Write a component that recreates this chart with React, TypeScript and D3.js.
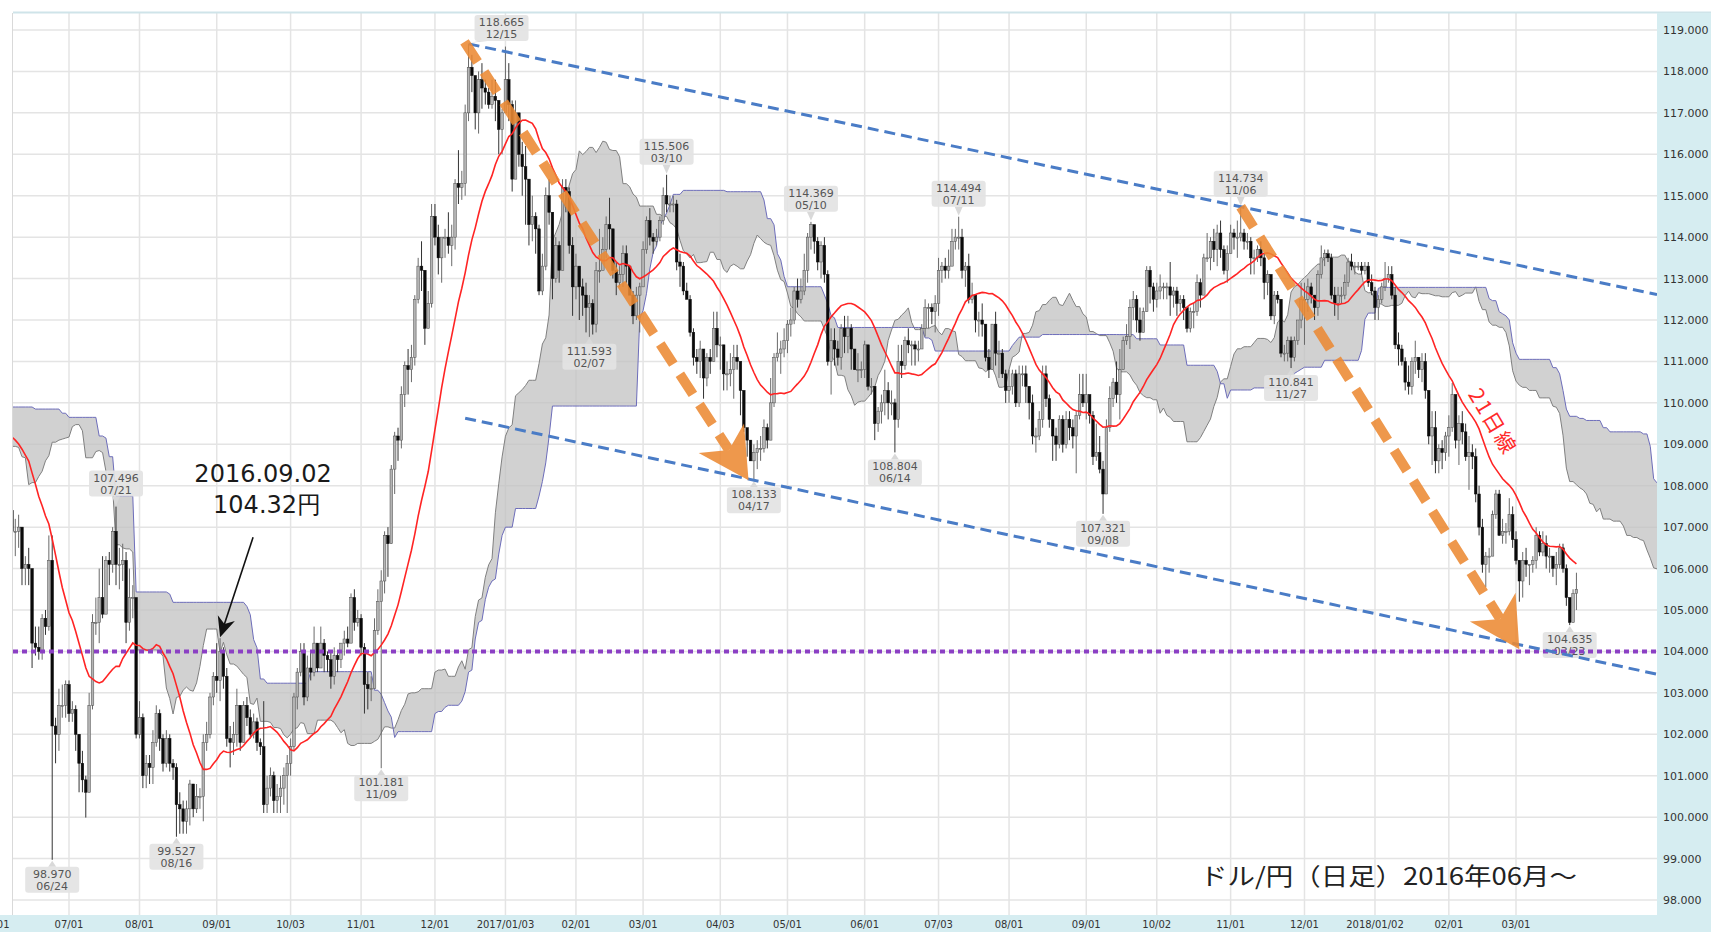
import React from "react";
import * as d3 from "d3";

const W = 1711;
const H = 932;

// ---------- axis ticks ----------
const priceTicks = [98, 99, 100, 101, 102, 103, 104, 105, 106, 107, 108, 109, 110, 111, 112, 113, 114, 115, 116, 117, 118, 119];
const dateTicks = ["2016-06-01", "2016-07-01", "2016-08-01", "2016-09-01", "2016-10-03", "2016-11-01", "2016-12-01", "2017-01-03", "2017-02-01", "2017-03-01", "2017-04-03", "2017-05-01", "2017-06-01", "2017-07-03", "2017-08-01", "2017-09-01", "2017-10-02", "2017-11-01", "2017-12-01", "2018-01-02", "2018-02-01", "2018-03-01"];
const dateTickLabels = ["06/01", "07/01", "08/01", "09/01", "10/03", "11/01", "12/01", "2017/01/03", "02/01", "03/01", "04/03", "05/01", "06/01", "07/03", "08/01", "09/01", "10/02", "11/01", "12/01", "2018/01/02", "02/01", "03/01"];

// trading calendar (weekdays, market-closed days removed)
const firstDay = "2016-02-22";
const lastDay = "2018-03-27";
const firstVisibleDay = "2016-06-08";
const closedDays = ["2016-12-26", "2017-01-02", "2018-01-01"];

// ---------- daily USD/JPY  [close, high, low] ----------
// history before the visible window (used only by the 21-day line and the cloud)
const feb16 = [[112.8,113.4,112.4],[112.1,113.0,111.8],[112.1,112.6,110.9],[112.9,113.2,111.8],[113.9,114.0,112.6],[112.7,114.0,112.3]];
const mar16 = [[113.5,113.8,112.4],[114.0,114.3,113.2],[113.7,114.2,113.3],[113.8,114.2,113.0],
  [113.3,114.0,113.0],[112.7,113.5,112.2],[113.3,113.5,112.3],[113.2,114.1,112.6],[113.8,114.0,112.9],
  [113.8,114.2,113.4],[113.2,113.9,113.0],[112.4,114.0,112.2],[111.5,112.5,110.7],[111.6,111.9,110.9],
  [111.9,112.1,111.3],[112.3,112.5,111.5],[112.4,112.6,112.0],[113.0,113.2,112.3],[113.0,113.2,112.8],
  [113.4,113.6,113.0],[112.6,113.8,112.4],[112.4,112.9,112.0],[112.6,112.9,112.0]];
const apr16 = [[111.6,112.8,111.4],
  [111.3,111.9,111.1],[110.3,111.3,110.0],[109.8,110.6,109.6],[108.1,109.8,107.7],[108.0,108.7,107.6],
  [108.0,108.5,107.6],[108.6,108.8,107.8],[109.4,109.6,108.5],[109.3,109.8,109.0],[108.8,109.5,108.6],
  [108.8,109.0,107.9],[109.2,109.4,108.6],[109.8,109.9,109.1],[109.5,109.9,109.3],[111.8,111.9,109.6],
  [111.2,111.9,110.9],[111.1,111.5,110.6],[111.4,111.9,110.7],[108.1,111.8,107.8],[106.5,108.5,106.2]];
const may16 = [[106.4,107.1,106.1],[106.1,106.8,105.5],[107.0,107.5,106.3],[107.3,107.5,106.6],[107.1,107.6,106.6],
  [108.4,108.6,107.2],[109.0,109.2,108.3],[108.5,109.1,108.2],[109.0,109.4,108.4],[108.6,109.2,108.5],
  [109.1,109.2,108.6],[109.0,109.4,108.7],[110.2,110.4,108.9],[109.9,110.3,109.6],[110.2,110.6,109.8],
  [109.4,110.3,109.1],[109.9,110.0,109.2],[110.2,110.3,109.6],[109.8,110.2,109.3],[110.2,110.5,109.4],
  [111.1,111.4,110.2],[110.7,111.2,110.6]];
const junEarly16 = [[109.5,110.8,109.3],[109.0,109.6,108.6],[106.5,109.2,106.4],[107.6,107.7,106.4],[107.4,107.7,107.0]];

// visible window
const jun16 = [[106.9,107.4,106.6],[106.9,107.2,106.3],[107.0,107.3,106.5],
  [106.0,107.0,105.6],[106.1,106.3,105.6],[106.0,106.5,105.6],[104.2,106.0,103.6],[104.1,104.6,103.9],
  [104.0,104.6,103.8],[104.8,104.9,103.8],[104.6,105.0,104.4],[106.2,106.8,104.5],[102.2,106.8,98.97],
  [102.0,102.4,101.3],[102.7,103.1,101.6],[102.7,103.2,102.4],[103.2,103.3,102.4]];
const jul16 = [[102.5,103.3,102.3],
  [102.6,102.8,102.3],[102.0,102.7,101.6],[101.3,102.0,100.6],[100.9,101.6,100.6],[100.6,101.0,99.99],
  [102.7,103.0,100.6],[104.7,104.9,102.6],[104.7,105.3,104.4],[105.3,106.0,104.2],[104.9,106.3,104.8],
  [106.2,106.3,104.9],[106.1,106.4,105.6],[106.9,107.0,105.9],[106.1,107.496,105.6],[106.1,106.5,105.5],
  [106.2,106.6,105.7],[104.7,106.4,104.2],[105.3,106.0,104.5],[105.3,105.6,104.8],[102.0,105.3,101.9]];
const aug16 = [[102.4,102.8,101.9],[101.0,102.5,100.7],[101.3,101.5,100.7],[101.2,101.5,100.8],[101.8,102.1,100.8],
  [102.5,102.7,101.7],[101.9,102.6,101.6],[101.3,102.0,101.1],[101.9,102.1,101.2],[101.3,102.0,101.1],
  [101.2,101.4,100.9],[100.3,101.3,99.527],[100.2,100.6,99.6],[99.9,100.4,99.6],[100.2,100.4,99.6],
  [100.8,100.9,99.8],[100.2,100.8,100.0],[100.5,100.8,100.1],[100.5,100.7,100.2],[101.8,102.0,99.9],
  [102.0,102.3,101.6],[102.9,103.0,101.9],[103.4,103.5,102.7]];
const sep16 = [[103.3,104.2,103.0],[104.0,104.32,102.8],
  [103.4,104.1,103.1],[101.9,103.6,101.7],[101.8,102.2,101.2],[102.0,102.3,101.5],[102.7,103.1,101.7],
  [101.8,102.7,101.6],[102.7,102.8,101.8],[102.4,102.9,102.2],[102.0,102.6,101.9],[102.3,102.5,101.9],
  [101.8,102.4,101.6],[101.7,101.9,101.5],[100.3,102.8,100.1],[100.7,101.0,100.1],[101.0,101.2,100.5],
  [100.4,101.1,100.1],[100.5,100.8,100.1],[100.7,101.0,100.1],[101.0,101.2,100.3],[101.3,101.5,100.1]];
const oct16 = [[101.7,101.9,101.0],[102.9,103.0,101.6],[103.5,103.6,102.6],[104.0,104.2,103.4],[102.9,104.2,102.7],
  [103.6,103.9,102.8],[103.5,104.0,103.3],[104.2,104.6,103.4],[103.6,104.2,103.5],[104.2,104.6,103.6],
  [103.9,104.3,103.5],[103.8,104.0,103.5],[103.4,104.0,103.1],[103.9,104.1,103.2],[103.8,104.0,103.5],
  [104.2,104.2,103.6],[104.3,104.5,103.9],[104.2,104.6,104.1],[105.3,105.4,104.3],[104.7,105.5,104.5],
  [104.8,105.0,104.6]];
const nov16 = [[104.1,104.9,103.9],[103.2,104.2,102.5],[103.1,103.5,102.6],[103.1,103.4,102.8],
  [104.5,104.8,103.6],[105.2,105.5,104.4],[105.7,105.96,101.181],[106.8,106.9,105.4],[106.6,107.0,105.8],
  [108.4,108.5,106.6],[109.2,109.3,107.8],[109.1,109.4,108.6],[110.2,110.4,108.9],[110.9,111.0,109.9],
  [110.8,111.3,110.2],[111.1,111.4,110.5],[112.5,112.6,110.9],[113.3,113.5,112.4],[113.2,113.9,112.7],
  [111.8,113.2,111.4],[112.4,112.7,111.8],[114.5,114.8,112.3]];
const dec16 = [[114.0,114.8,113.8],[113.5,114.3,113.1],
  [114.0,114.0,112.9],[114.0,114.2,113.5],[113.8,114.6,113.6],[114.0,114.3,113.3],[115.3,115.4,113.7],
  [115.2,116.1,114.8],[115.3,115.6,114.9],[117.0,117.2,115.0],[118.1,118.665,116.8],[117.9,118.4,117.5],
  [117.0,117.9,116.6],[117.8,118.0,116.5],[117.6,118.2,117.1],[117.5,117.8,117.2],[117.2,117.6,117.1],
  [117.4,117.8,117.1],[117.3,117.8,116.8],[116.6,117.2,116.0],[117.0,117.1,116.0]];
const jan17 = [[117.8,118.6,117.2],[117.2,118.2,116.8],[115.4,117.3,115.1],[117.0,117.3,115.4],
  [116.0,117.0,115.7],[115.7,116.3,115.0],[115.4,116.2,114.3],[114.3,115.2,113.8],[114.5,115.0,113.9],
  [114.2,114.6,113.6],[112.7,114.3,112.6],[113.3,113.6,112.6],[115.0,115.2,113.2],[114.6,115.4,114.3],
  [113.0,114.3,112.5],[113.8,114.0,112.9],[113.2,113.9,112.9],[115.2,115.4,113.2],[115.1,115.4,114.6],
  [113.8,115.2,113.6],[112.8,114.0,112.1]];
const feb17 = [[113.3,113.6,112.5],[112.8,113.3,112.0],[112.6,113.0,112.1],
  [112.3,112.9,111.7],[112.4,112.6,111.593],[111.9,112.5,111.65],[113.2,113.4,111.7],[113.2,114.2,112.9],
  [113.7,114.0,113.2],[114.3,114.5,113.5],[114.2,114.95,113.7],[113.2,114.1,113.0],[112.9,113.4,112.6],
  [113.1,113.3,112.8],[113.6,113.8,112.8],[113.3,113.8,112.9],[112.6,113.3,112.6],[112.1,112.7,111.9],
  [112.6,112.8,112.0],[112.8,112.9,111.7]];
const mar17 = [[113.7,113.9,112.8],[114.4,114.5,113.6],[114.0,114.7,113.8],
  [113.9,114.1,113.6],[114.0,114.2,113.8],[114.4,114.5,113.9],[115.0,115.2,114.3],[114.8,115.506,114.6],
  [114.8,115.0,114.6],[114.8,115.0,114.6],[113.4,114.9,113.2],[113.3,113.6,112.8],[112.7,113.4,112.6],
  [112.5,112.9,112.5],[111.7,112.6,111.6],[111.1,111.8,110.9],[111.0,111.3,110.7],[111.3,111.5,110.6],
  [110.6,111.0,110.1],[111.1,111.2,110.4],[111.0,111.3,110.7],[111.8,112.2,111.0],[111.4,112.2,111.1]];
const apr17 = [[111.4,111.6,110.8],[110.7,111.4,110.3],[110.7,111.0,110.3],[110.8,111.2,110.4],[111.1,111.4,110.1],
  [111.0,111.4,110.8],[110.3,111.0,109.7],[109.4,110.3,109.3],[109.1,109.4,108.7],[108.6,109.1,108.6],
  [108.8,109.0,108.133],[108.9,109.1,108.4],[108.9,109.2,108.6],[109.4,109.6,108.8],[109.1,109.5,108.9],
  [110.0,110.6,109.5],[111.1,111.2,109.9],[111.2,111.7,111.0],[111.3,111.5,110.7],[111.5,111.8,111.1]];
const may17 = [[111.9,112.0,111.2],[112.0,112.3,111.6],[112.7,112.8,111.9],[112.5,113.0,112.3],[112.7,113.0,112.4],
  [113.2,113.6,112.6],[114.0,114.1,112.9],[114.3,114.369,113.7],[113.9,114.3,113.6],[113.4,114.0,113.2],
  [113.8,113.9,113.0],[113.1,114.0,112.9],[111.0,113.2,110.9],[111.5,111.8,110.2],[111.3,111.8,110.9],
  [111.1,111.5,110.9],[111.8,111.9,110.8],[111.6,112.1,111.2],[111.8,112.1,111.2],[111.3,111.9,110.8],
  [110.8,111.3,110.8],[110.8,111.2,110.5],[110.8,111.0,110.6]];
const jun17 = [[111.4,111.5,110.6],[110.4,111.4,110.3],
  [110.4,110.6,110.2],[109.5,110.4,109.1],[109.8,109.9,109.3],[110.0,110.2,109.5],[110.3,110.8,109.7],
  [110.0,110.5,109.6],[110.0,110.3,109.7],[109.6,110.1,108.804],[111.0,111.4,109.4],[110.9,111.4,110.6],
  [111.5,111.6,110.8],[111.4,111.8,111.2],[111.4,111.5,110.9],[111.3,111.5,110.9],[111.3,111.5,111.0],
  [111.8,111.9,111.3],[112.3,112.5,111.6],[112.3,112.4,111.8],[112.2,112.4,111.9],[112.4,112.6,111.7]];
const jul17 = [[113.2,113.5,112.1],[113.3,113.4,112.9],[113.2,113.5,113.0],[113.3,113.7,113.0],[113.9,114.2,113.3],
  [114.0,114.2,113.7],[114.0,114.494,113.7],[113.2,114.2,113.0],[113.3,113.4,112.8],[112.5,113.6,112.4],
  [112.6,112.9,112.4],[112.0,112.6,111.7],[112.0,112.2,111.6],[111.9,112.4,111.6],[111.1,111.9,111.0],
  [110.8,111.3,110.6],[111.9,111.9,110.8],[111.2,112.2,110.9],[111.2,111.5,110.6],[110.7,111.3,110.6],
  [110.3,110.8,110.0]];
const aug17 = [[110.4,110.8,110.0],[110.7,110.8,110.2],[110.0,110.8,109.9],[110.7,110.9,109.9],
  [110.7,110.9,110.4],[110.4,110.9,110.0],[110.0,110.3,109.6],[109.2,110.2,109.0],[109.2,109.4,108.8],
  [109.6,109.8,109.1],[110.7,110.9,109.4],[110.1,110.9,109.9],[109.6,110.2,109.4],[109.2,109.6,108.6],
  [109.0,109.4,108.6],[109.6,109.7,108.9],[109.0,109.7,108.8],[109.6,109.8,108.9],[109.4,109.8,109.1],
  [109.2,109.6,108.9],[109.7,109.8,108.3],[110.2,110.7,109.6],[110.0,110.7,109.9]];
const sep17 = [[110.2,110.7,109.6],
  [109.7,110.0,109.5],[108.7,109.8,108.5],[108.8,109.5,108.6],[108.4,109.2,108.3],[107.8,108.6,107.321],
  [109.4,109.6,108.0],[110.1,110.4,109.3],[110.5,110.6,109.9],[110.2,111.0,110.0],[110.8,111.3,109.6],
  [111.5,111.6,110.9],[111.6,111.9,111.4],[112.3,112.5,111.3],[112.5,112.7,112.0],[112.0,112.6,111.7],
  [111.7,112.3,111.5],[112.2,112.3,111.7],[113.2,113.3,112.2],[112.8,113.3,112.4],[112.5,112.9,112.2]];
const oct17 = [[112.7,112.9,112.3],[112.8,113.1,112.5],[112.8,112.9,112.5],[112.8,112.9,112.5],[112.6,113.4,112.1],
  [112.7,112.8,112.3],[112.4,112.8,112.1],[112.5,112.6,112.2],[112.3,112.6,112.0],[111.8,112.3,111.7],
  [112.2,112.3,111.7],[112.2,112.4,111.8],[112.9,113.1,112.1],[112.6,113.0,112.3],[113.5,113.6,112.6],
  [113.5,114.1,113.4],[113.9,114.0,113.2],[113.7,114.2,113.4],[114.1,114.3,113.3],[113.7,114.4,113.5],
  [113.2,113.8,113.1],[113.6,113.8,112.9]];
const nov17 = [[114.1,114.3,113.6],[114.0,114.2,113.7],[114.0,114.4,113.5],
  [114.1,114.734,113.9],[113.9,114.2,113.7],[113.9,114.1,113.7],[113.5,114.0,113.1],[113.5,113.7,113.1],
  [113.7,113.8,113.4],[113.5,113.9,113.3],[112.9,113.6,112.5],[113.1,113.2,112.6],[112.1,113.1,112.0],
  [112.6,112.7,111.9],[112.5,112.7,112.4],[111.2,112.5,111.1],[111.2,111.4,111.0],[111.5,111.6,111.0],
  [111.1,111.6,110.841],[111.5,111.6,111.0],[112.0,112.0,111.4],[112.5,112.9,111.8]];
const dec17 = [[112.5,112.9,111.4],
  [112.8,113.0,112.2],[112.6,112.9,112.4],[112.3,112.6,112.0],[113.1,113.2,112.1],[113.5,113.8,113.0],
  [113.6,113.7,113.3],[113.5,113.7,113.4],[112.6,113.6,112.5],[112.4,112.8,112.1],[112.6,112.8,112.0],
  [112.6,112.8,112.4],[112.9,113.1,112.5],[113.4,113.5,112.8],[113.3,113.6,113.2],[113.3,113.4,113.1],
  [113.3,113.4,113.2],[113.2,113.4,113.1],[113.3,113.4,113.1],[112.9,113.4,112.8],[112.7,113.1,112.6]];
const jan18 = [[112.3,112.8,112.0],[112.5,112.6,112.0],[112.8,112.9,112.4],[113.0,113.4,112.7],
  [113.1,113.3,112.9],[112.6,113.3,112.5],[111.4,112.8,111.3],[111.3,111.7,110.9],[111.0,111.4,110.9],
  [110.5,111.1,110.3],[110.4,110.9,110.2],[111.0,111.1,110.2],[111.1,111.5,110.7],[110.8,111.1,110.6],
  [111.0,111.2,110.5],[110.3,111.2,110.1],[109.2,110.3,109.0],[109.4,109.8,108.5],[108.6,109.8,108.3],
  [108.9,109.0,108.3],[108.8,109.1,108.4],[109.2,109.3,108.6]];
const feb18 = [[109.4,109.7,108.7],[110.2,110.48,109.3],
  [109.1,110.2,108.9],[109.5,109.7,108.5],[109.3,109.8,109.0],[108.7,109.5,108.6],[108.8,109.2,107.9],
  [108.7,109.0,108.4],[107.8,108.9,107.6],[107.0,108.0,106.8],[106.1,107.2,105.9],[106.3,106.4,105.55],
  [106.3,106.5,105.9],[107.3,107.4,106.3],[107.8,107.9,107.2],[106.8,107.9,106.8],[106.9,107.2,106.6],
  [106.9,107.1,106.6],[107.3,107.7,106.8],[106.7,107.5,106.5]];
const mar18 = [[106.2,106.9,106.1],[105.7,106.2,105.2],
  [106.2,106.4,105.3],[106.1,106.5,105.8],[106.1,106.1,105.6],[106.2,106.3,105.9],[106.8,107.0,106.0],
  [106.4,106.9,106.3],[106.6,106.9,106.3],[106.3,106.8,106.0],[106.3,106.5,105.9],[106.0,106.3,105.8],
  [106.1,106.4,105.6],[106.5,106.6,106.0],[106.0,106.6,105.9],[105.3,106.1,105.1],[104.7,105.3,104.635],
  [105.4,105.5,104.7],[105.5,105.9,105.0]];

// marked highs / lows
const markDates = ["2016-06-24", "2016-07-21", "2016-08-16", "2016-11-09", "2016-12-15", "2017-02-07", "2017-03-10", "2017-04-17", "2017-05-10", "2017-06-14", "2017-07-11", "2017-09-08", "2017-11-06", "2017-11-27", "2018-03-23"];
const markValues = [98.970, 107.496, 99.527, 101.181, 118.665, 111.593, 115.506, 108.133, 114.369, 108.804, 114.494, 107.321, 114.734, 110.841, 104.635];
const markKinds = ["low", "high", "low", "low", "high", "low", "high", "low", "high", "low", "high", "low", "high", "low", "low"];

const supportLevel = 104.0;
const noteDate = "2016-09-02";
const noteValue = 104.32;
const maPeriod = 21;

// ---------- build series ----------
function buildCalendar(): string[] {
  const out: string[] = [];
  const [y0, m0, d0] = firstDay.split("-").map(Number);
  const [y1, m1, d1] = lastDay.split("-").map(Number);
  let t = Date.UTC(y0, m0 - 1, d0);
  const end = Date.UTC(y1, m1 - 1, d1);
  while (t <= end) {
    const d = new Date(t);
    const wd = d.getUTCDay();
    const s = d.toISOString().slice(0, 10);
    if (wd !== 0 && wd !== 6 && !closedDays.includes(s)) out.push(s);
    t += 86400000;
  }
  return out;
}
const days = buildCalendar();
const rows = [
  ...feb16, ...mar16, ...apr16, ...may16, ...junEarly16,
  ...jun16, ...jul16, ...aug16, ...sep16, ...oct16, ...nov16, ...dec16,
  ...jan17, ...feb17, ...mar17, ...apr17, ...may17, ...jun17, ...jul17, ...aug17, ...sep17, ...oct17, ...nov17, ...dec17,
  ...jan18, ...feb18, ...mar18,
];
const N = Math.min(rows.length, days.length);
const closes = rows.slice(0, N).map((r) => r[0]);
const opens = closes.map((c, i) => (i === 0 ? c : closes[i - 1]));
const highs = rows.slice(0, N).map((r, i) => Math.max(r[1], opens[i], r[0]));
const lows = rows.slice(0, N).map((r, i) => Math.min(r[2], opens[i], r[0]));
const dayIndex = (s: string) => days.indexOf(s);
const startIdx = dayIndex(firstVisibleDay);

// layout
const PL = 13, PR = 1657, PT = 13, PB = 915;
const x = d3.scaleLinear().domain([dayIndex("2016-07-01"), dayIndex("2018-03-01")]).range([69, 1516]);
const y = d3.scaleLinear().domain([98, 119]).range([900, 30]);

// indicators
const mid = (i: number, len: number) => {
  let mx = -Infinity, mn = Infinity;
  for (let k = Math.max(0, i - len + 1); k <= i; k++) {
    if (highs[k] > mx) mx = highs[k];
    if (lows[k] < mn) mn = lows[k];
  }
  return (mx + mn) / 2;
};
const SHIFT = 25;
const cloud: { j: number; a: number; b: number }[] = [];
for (let i = 51; i < N; i++) {
  const j = i + SHIFT;
  if (j < startIdx) continue;
  cloud.push({ j, a: (mid(i, 9) + mid(i, 26)) / 2, b: mid(i, 52) });
}
const ma: { i: number; v: number }[] = [];
for (let i = startIdx; i < N; i++) {
  ma.push({ i, v: d3.mean(closes.slice(i - maPeriod + 1, i + 1)) as number });
}

function headPath(x1: number, y1: number, x2: number, y2: number, len: number, half: number, notch: number) {
  const L = Math.hypot(x2 - x1, y2 - y1);
  const ux = (x2 - x1) / L, uy = (y2 - y1) / L;
  const px = -uy, py = ux;
  const bx = x2 - ux * len, by = y2 - uy * len;
  const nx = x2 - ux * (len - notch), ny = y2 - uy * (len - notch);
  return {
    d: `M${x2},${y2}L${bx + px * half},${by + py * half}L${nx},${ny}L${bx - px * half},${by - py * half}Z`,
    nx, ny,
  };
}

const AXIS_BG = "#d6edf1";
const GRID = "#e4e4e4";
const FONT = "'DejaVu Sans', Verdana, sans-serif";
const JP = "'Noto Sans CJK JP', 'DejaVu Sans', sans-serif";

export default function App() {
  const area = d3.area<{ j: number; a: number; b: number }>().x((d) => x(d.j)).y0((d) => y(d.a)).y1((d) => y(d.b));
  const lineA = d3.line<{ j: number; a: number; b: number }>().x((d) => x(d.j)).y((d) => y(d.a));
  const lineB = d3.line<{ j: number; a: number; b: number }>().x((d) => x(d.j)).y((d) => y(d.b));
  const maLine = d3.line<{ i: number; v: number }>().x((d) => x(d.i)).y((d) => y(d.v));

  // channel lines
  const uA = [x(dayIndex("2016-12-15")), y(118.665)];
  const uB = [x(dayIndex("2017-11-06")), y(114.734)];
  const upSlope = (uB[1] - uA[1]) / (uB[0] - uA[0]);
  const lA = [x(dayIndex("2016-12-14")), y(109.63)];
  const lB = [x(dayIndex("2017-04-17")), y(108.133)];
  const loSlope = (lB[1] - lA[1]) / (lB[0] - lA[0]);

  // orange arrows
  const arrows = [
    { from: [x(dayIndex("2016-12-15")) - 4, y(118.665) - 2], to: [x(dayIndex("2017-04-14")) - 2, y(108.133)] },
    { from: [x(dayIndex("2017-11-06")), y(114.734)], to: [x(dayIndex("2018-03-02")), y(104.05)] },
  ];

  // note arrow
  const nx = x(dayIndex(noteDate));
  const ny = y(noteValue);
  const noteHead = headPath(nx + 33, ny - 101, nx, ny - 1, 20, 9, 6);

  return (
    <svg width={W} height={H} style={{ position: "absolute", left: 0, top: 0, display: "block", background: "#fff" }}>
      <defs>
        <clipPath id="plotClip">
          <rect x={PL} y={PT} width={PR - PL} height={PB - PT} />
        </clipPath>
      </defs>
      <rect x={0} y={0} width={W} height={H} fill="#fff" />

      {/* grid */}
      <g>
        {priceTicks.map((p) => (
          <line key={"h" + p} x1={PL} x2={PR} y1={y(p)} y2={y(p)} stroke={GRID} strokeWidth={1.5} />
        ))}
        {dateTicks.map((d) => {
          const xx = x(dayIndex(d));
          return xx > PL ? <line key={"v" + d} x1={xx} x2={xx} y1={PT} y2={PB} stroke={GRID} strokeWidth={1.5} /> : null;
        })}
      </g>

      <g clipPath="url(#plotClip)">
        {/* cloud */}
        <path d={area(cloud) || ""} fill="#c2c2c2" fillOpacity={0.75} />
        <path d={lineA(cloud) || ""} fill="none" stroke="#808080" strokeWidth={1} />
        <path d={lineB(cloud) || ""} fill="none" stroke="#6d6dba" strokeWidth={1} />

        {/* candles */}
        {d3.range(startIdx, N).map((i) => {
          const xx = x(i);
          const o = opens[i], c = closes[i];
          const up = c >= o;
          const top = y(Math.max(o, c));
          const h = Math.max(1, Math.abs(y(o) - y(c)));
          return (
            <g key={"c" + i}>
              <line x1={xx} x2={xx} y1={y(highs[i])} y2={y(lows[i])} stroke={up ? "#6a6a6a" : "#333"} strokeWidth={1} />
              <rect x={xx - 1.3} y={top} width={2.6} height={h} fill={up ? "#b4b4b4" : "#0a0a0a"} stroke={up ? "#4a4a4a" : "#0a0a0a"} strokeWidth={0.5} />
            </g>
          );
        })}

        {/* 21-day line */}
        <path d={maLine(ma) || ""} fill="none" stroke="#ff2424" strokeWidth={1.6} />

        {/* high / low marks */}
        {markDates.map((d, k) => {
          const cx = x(dayIndex(d));
          const py = y(markValues[k]);
          const isHigh = markKinds[k] === "high";
          const shifted = d === "2016-12-15";
          const bx = shifted ? cx + 33 : cx;
          const by = shifted ? py - 16 : isHigh ? py - 23 : py + 20;
          const edge = isHigh ? by + 13 : by - 13;
          const px = shifted ? bx - 18 : bx;
          return (
            <g key={"m" + d}>
              <path d={`M${px - 4},${edge}L${px + 4},${edge}L${cx},${isHigh ? py - 1 : py + 1}Z`} fill="#d9d9d9" />
              <rect x={bx - 27} y={by - 13} width={54} height={26} rx={3} fill="#e3e3e3" fillOpacity={0.92} />
              <text x={bx} y={by - 2} textAnchor="middle" fontFamily={FONT} fontSize={11} fill="#555">{markValues[k].toFixed(3)}</text>
              <text x={bx} y={by + 10} textAnchor="middle" fontFamily={FONT} fontSize={11} fill="#555">{d.slice(5).replace("-", "/")}</text>
            </g>
          );
        })}

        {/* support level */}
        <line x1={PL} x2={PR} y1={y(supportLevel)} y2={y(supportLevel)} stroke="#8b40c4" strokeWidth={4} strokeDasharray="5 4" />

        {/* channel */}
        <line x1={uA[0]} y1={uA[1]} x2={PR} y2={uA[1] + (PR - uA[0]) * upSlope} stroke="#4a7cc6" strokeWidth={3} strokeDasharray="11 6" />
        <line x1={lA[0]} y1={lA[1]} x2={PR} y2={lA[1] + (PR - lA[0]) * loSlope} stroke="#4a7cc6" strokeWidth={3} strokeDasharray="11 6" />

        {/* orange trend arrows */}
        {arrows.map((a, k) => {
          const hp = headPath(a.from[0], a.from[1], a.to[0], a.to[1], 50, 27, 14);
          return (
            <g key={"a" + k} opacity={0.88}>
              <line x1={a.from[0]} y1={a.from[1]} x2={hp.nx} y2={hp.ny} stroke="#ec8a34" strokeWidth={10} strokeDasharray="24 12" />
              <path d={hp.d} fill="#ec8a34" />
            </g>
          );
        })}

        {/* 21 day label */}
        <text transform="translate(1494,421) rotate(59)" textAnchor="middle" dominantBaseline="central" fontFamily={JP} fontSize={21} fill="#ff2a2a" letterSpacing={2}>21日線</text>

        {/* note */}
        <line x1={nx + 33} y1={ny - 101} x2={noteHead.nx} y2={noteHead.ny} stroke="#111" strokeWidth={1.6} />
        <path d={noteHead.d} fill="#111" />
        <text x={nx + 43} y={ny - 156} textAnchor="middle" fontFamily={FONT} fontSize={24} fill="#1a1a1a">{noteDate.replace(/-/g, ".")}</text>
        <text x={nx + 47} y={ny - 125} textAnchor="middle" fontFamily={FONT} fontSize={24} fill="#1a1a1a">{noteValue.toFixed(2)}円</text>

        {/* caption */}
        <text x={1200} y={885} fontFamily={JP} fontSize={24} fill="#222" textLength={377} lengthAdjust="spacingAndGlyphs">ドル/円（日足）2016年06月～</text>
      </g>

      {/* frame */}
      <line x1={PL} x2={W} y1={12.5} y2={12.5} stroke="#cfe4e9" strokeWidth={2} />
      <line x1={12.5} x2={12.5} y1={PT} y2={PB} stroke="#d9d9d9" strokeWidth={1} />

      {/* right axis */}
      <rect x={PR} y={PT} width={W - PR} height={H - PT} fill={AXIS_BG} />
      {priceTicks.map((p) => (
        <text key={"pt" + p} x={PR + 6} y={y(p) + 4} fontFamily={FONT} fontSize={11} fill="#333">{p.toFixed(3)}</text>
      ))}

      {/* bottom axis */}
      <rect x={0} y={PB} width={PR} height={H - PB} fill={AXIS_BG} />
      {dateTicks.map((d, k) => (
        <text key={"dt" + d + k} x={x(dayIndex(d))} y={928} textAnchor="middle" fontFamily={FONT} fontSize={10} fill="#333">{dateTickLabels[k]}</text>
      ))}
    </svg>
  );
}
